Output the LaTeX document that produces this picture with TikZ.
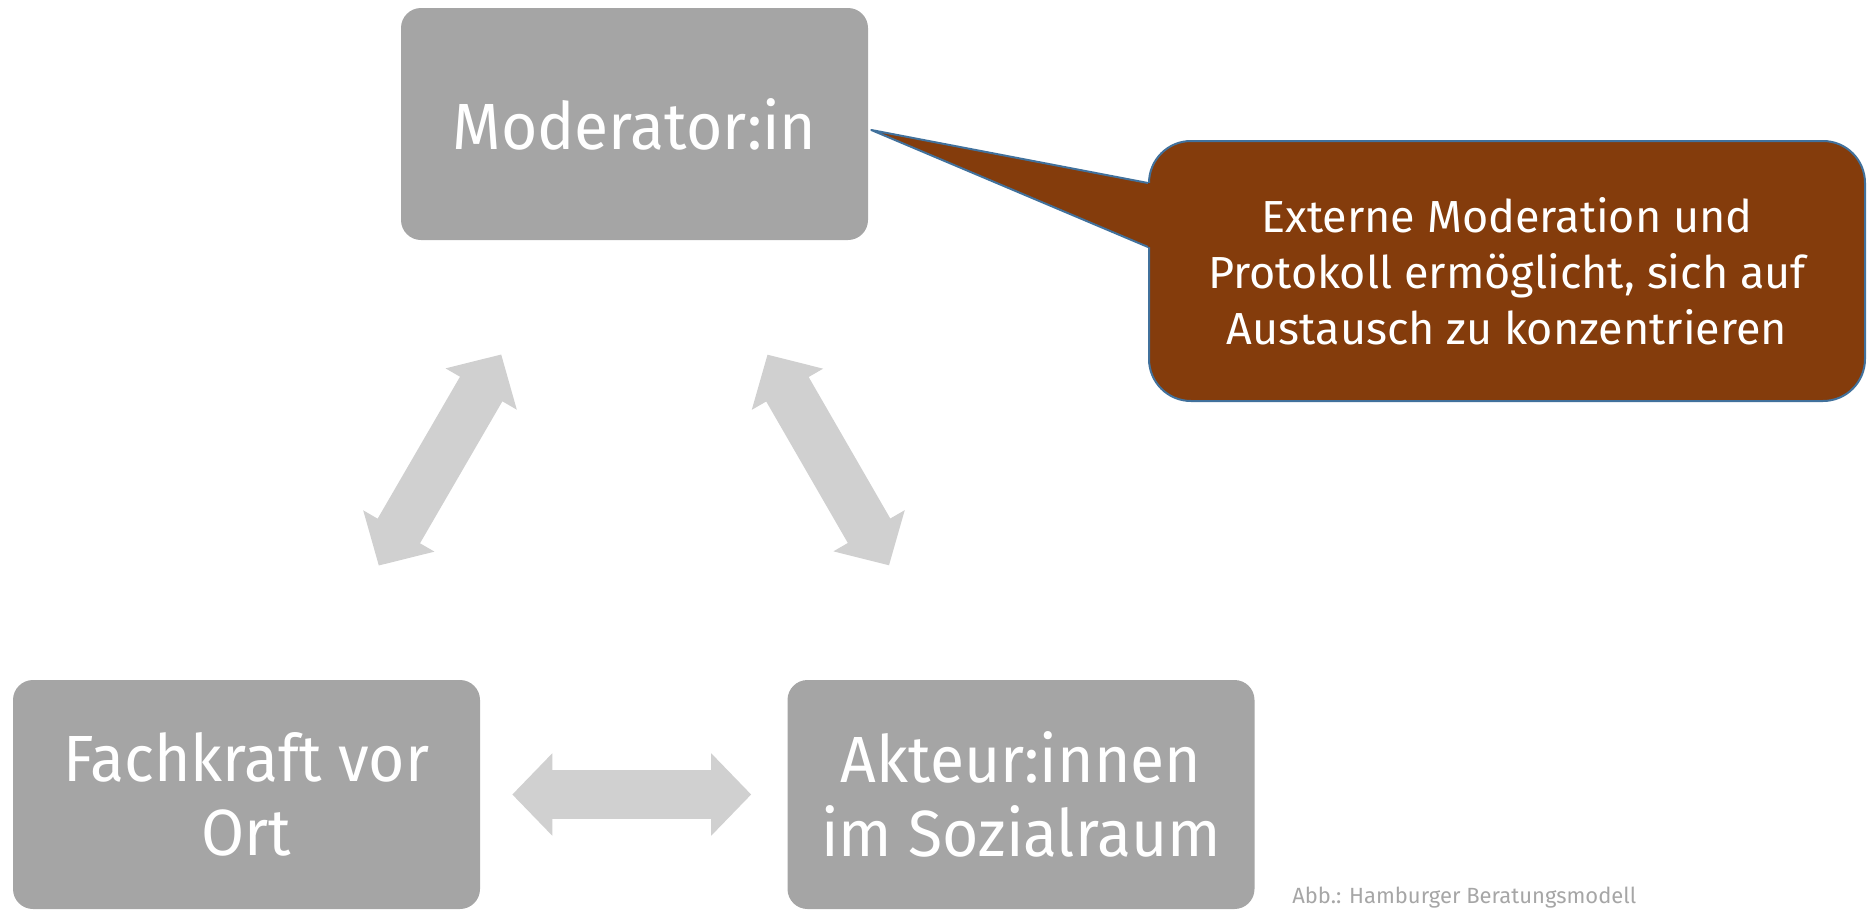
\documentclass[tikz,border=0pt]{standalone}
\usepackage{fontspec}
\setmainfont{Fira Sans}
\newfontfamily\boxfont[FakeStretch=0.955]{Fira Sans}
\usetikzlibrary{arrows.meta,calc}
\definecolor{boxgray}{RGB}{165,165,165}
\definecolor{arrowgray}{RGB}{208,208,208}
\definecolor{calloutbrown}{RGB}{132,60,12}
\definecolor{calloutblue}{RGB}{65,113,156}
\definecolor{captiongray}{RGB}{166,166,166}

\tikzset{
  rolebox/.style={fill=boxgray, rounded corners=15pt, minimum width=350.25pt, inner sep=0pt,
    text=white, align=center, font=\boxfont\fontsize{49}{56}\selectfont},
  twoway/.style={draw=arrowgray, line width=36.75pt,
    {Triangle[length=30pt,width=60pt]}-{Triangle[length=30pt,width=60pt]}},
  calloutbox/.style={fill=calloutbrown, draw=calloutblue, line width=1.5pt, rounded corners=31.5pt,
    minimum width=537pt, minimum height=195pt, inner sep=0pt, text=white, align=center,
    font=\fontsize{33.7}{42}\selectfont},
}

\begin{document}
\begin{tikzpicture}[x=0.75pt,y=0.75pt,yscale=-1,xscale=1]
\useasboundingbox (0,0) rectangle (1867,910);

%Shape: Rounded Rectangle [moderator]
\node[rolebox, minimum height=174pt] (moderator) at (634.5,124) {Moderator:in};
%Shape: Rounded Rectangle [fachkraft]
\node[rolebox, minimum height=171.75pt] (fachkraft) at (246.5,794.5) {Fachkraft vor\\Ort};
%Shape: Rounded Rectangle [akteure]
\node[rolebox, minimum height=171.75pt] (akteure) at (1021,794.5) {Akteur:innen\\im Sozialraum};

%Double Arrows
\draw[twoway, shorten <=99pt, shorten >=99pt] ($(fachkraft.north)+(66,0)$) -- ($(moderator.south)+(-67,0)$);
\draw[twoway, shorten <=99pt, shorten >=99pt] ($(akteure.north)+(-66,0)$) -- ($(moderator.south)+(67,0)$);
\draw[twoway, shorten <=24pt, shorten >=27pt] (fachkraft.east) -- (akteure.west);

%Shape: Callout [hinweis]
\node[calloutbox] (hinweis) at (1507,271) {Externe Moderation und\\Protokoll ermöglicht, sich auf\\Austausch zu konzentrieren};
\coordinate (spitze) at ($(moderator.east)+(3,6)$);
\coordinate (fuss1) at ($(hinweis.west)+(0,-88)$);
\coordinate (fuss2) at ($(hinweis.west)+(0,-24)$);
\fill[calloutbrown] (spitze) -- (fuss1) -- ($(fuss1)+(8,0)$) -- ($(fuss2)+(8,0)$) -- (fuss2) -- cycle;
\draw[calloutblue, line width=1.5pt, line join=round] (fuss1) -- (spitze) -- (fuss2);

% Text Node
\node[anchor=base west, inner sep=0pt, text=captiongray, font=\fontsize{16.5}{20}\selectfont] (quelle) at (1292,903) {Abb.: Hamburger Beratungsmodell};

\end{tikzpicture}
\end{document}
